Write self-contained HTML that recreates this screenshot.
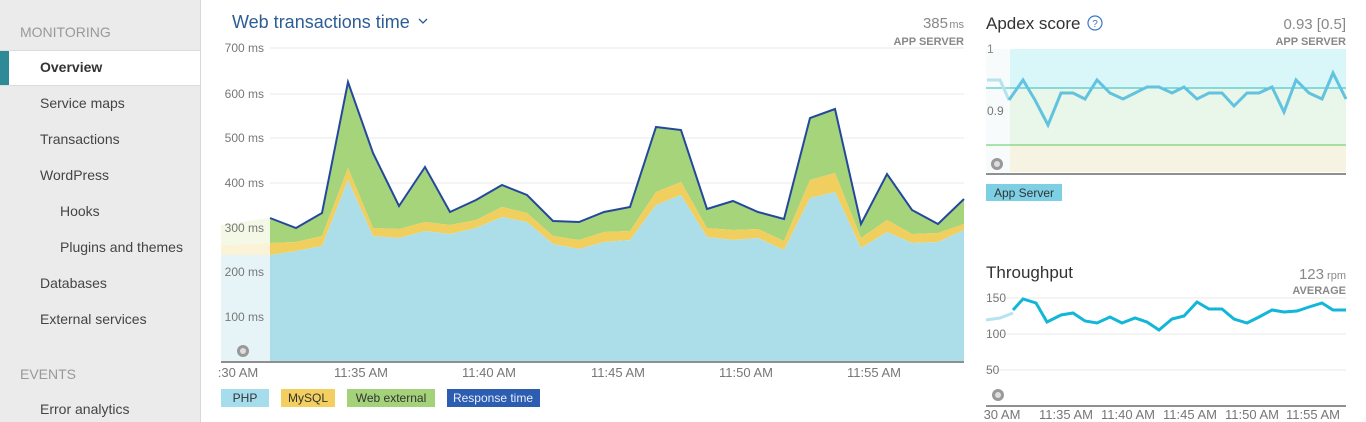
<!DOCTYPE html>
<html><head><meta charset="utf-8"><style>
body{margin:0;width:1366px;height:422px;overflow:hidden;background:#fff;font-family:"Liberation Sans","DejaVu Sans",sans-serif;position:relative}
.sb{position:absolute;left:0;top:0;width:200px;height:422px;background:#ebebeb;border-right:1px solid #d8d8d8}
.sb div{position:absolute;font-size:14px;color:#444}
.h{color:#999!important;left:20px}
.ov{left:0;top:50px;width:200px;height:34px;background:#fff;border-top:1px solid #ddd;border-bottom:1px solid #ddd}
.ov b{position:absolute;left:40px;top:8px;color:#333;font-size:14px}
.ov i{position:absolute;left:0;top:0;width:9px;height:34px;background:#2e8a96}
svg{position:absolute;left:0;top:0}
</style></head><body>
<div class="sb">
<div class="h" style="top:24px">MONITORING</div>
<div class="ov"><i></i><b>Overview</b></div>
<div style="left:40px;top:95px">Service maps</div>
<div style="left:40px;top:131px">Transactions</div>
<div style="left:40px;top:167px">WordPress</div>
<div style="left:60px;top:203px">Hooks</div>
<div style="left:60px;top:239px">Plugins and themes</div>
<div style="left:40px;top:275px">Databases</div>
<div style="left:40px;top:311px">External services</div>
<div class="h" style="top:366px">EVENTS</div>
<div style="left:40px;top:401px">Error analytics</div>
</div>
<svg width="1366" height="422" font-family="Liberation Sans, DejaVu Sans, sans-serif">
<text x="232" y="28" font-size="18" fill="#2d5d94">Web transactions time</text>
<path d="M419 19 l4 4 l4 -4" stroke="#2d5d94" fill="none" stroke-width="1.3"/>
<text x="948" y="28" font-size="15" fill="#888" text-anchor="end">385</text>
<text x="964" y="28" font-size="11" fill="#888" text-anchor="end">ms</text>
<text x="964" y="45" font-size="11" fill="#888" text-anchor="end" font-weight="bold">APP SERVER</text>
<g stroke="#e8e8e8" stroke-width="1">
<line x1="270" y1="48" x2="964" y2="48"/><line x1="270" y1="94" x2="964" y2="94"/><line x1="270" y1="138" x2="964" y2="138"/><line x1="270" y1="183" x2="964" y2="183"/><line x1="270" y1="228" x2="964" y2="228"/></g>
<polygon points="221,225 270,218 270,243 221,245" fill="#f4f8e6"/>
<polygon points="221,245 270,243 270,255 221,255" fill="#fbf3d8"/>
<polygon points="221,255 270,255 270,361 221,361" fill="#e6f4f8"/>
<g font-size="12" fill="#777" text-anchor="end">
<text x="264" y="52">700 ms</text><text x="264" y="98">600 ms</text><text x="264" y="142">500 ms</text><text x="264" y="187">400 ms</text><text x="264" y="232">300 ms</text><text x="264" y="276">200 ms</text><text x="264" y="321">100 ms</text></g>
<polygon fill="#a6d47a" points="270,218 296,228 322,213 348,82 373,153 399,206 425,167 450,212 476,200 502,185 527,195 553,221 579,222 604,212 630,207 656,127 681,130 707,209 733,201 758,212 784,219 810,118 835,109 861,224 887,174 912,210 938,224 964,199 964,224 938,233 912,234 887,220 861,238 835,173 810,180 784,241 758,229 733,230 707,228 681,182 656,192 630,231 604,232 579,240 553,236 527,213 502,207 476,220 450,225 425,222 399,229 373,228 348,168 322,236 296,242 270,243"/>
<polygon fill="#f1cf5e" points="270,243 296,242 322,236 348,168 373,228 399,229 425,222 450,225 476,220 502,207 527,213 553,236 579,240 604,232 630,231 656,192 681,182 707,228 733,230 758,229 784,241 810,180 835,173 861,238 887,220 912,234 938,233 964,224 964,230 938,242 912,243 887,232 861,248 835,192 810,198 784,250 758,238 733,240 707,237 681,195 656,205 630,240 604,242 579,249 553,244 527,222 502,217 476,228 450,234 425,231 399,238 373,236 348,180 322,246 296,251 270,255"/>
<polygon fill="#acdeea" points="270,255 296,251 322,246 348,180 373,236 399,238 425,231 450,234 476,228 502,217 527,222 553,244 579,249 604,242 630,240 656,205 681,195 707,237 733,240 758,238 784,250 810,198 835,192 861,248 887,232 912,243 938,242 964,230 964,361 270,361"/>
<polyline fill="none" stroke="#24489c" stroke-width="2" points="270,218 296,228 322,213 348,82 373,153 399,206 425,167 450,212 476,200 502,185 527,195 553,221 579,222 604,212 630,207 656,127 681,130 707,209 733,201 758,212 784,219 810,118 835,109 861,224 887,174 912,210 938,224 964,199"/>
<circle cx="243" cy="351" r="6" fill="#999"/><circle cx="243" cy="351" r="3" fill="#ddd"/>
<rect x="221" y="361" width="743" height="2" fill="#8f8f8f"/>
<g font-size="13" fill="#777" text-anchor="middle">
<text x="238" y="377">:30 AM</text><text x="361" y="377">11:35 AM</text><text x="489" y="377">11:40 AM</text><text x="618" y="377">11:45 AM</text><text x="746" y="377">11:50 AM</text><text x="874" y="377">11:55 AM</text></g>
<g font-size="12" text-anchor="middle">
<rect x="221" y="389" width="48" height="18" fill="#a6dded"/><text x="245" y="402" fill="#333">PHP</text>
<rect x="281" y="389" width="54" height="18" fill="#f3cf5f"/><text x="308" y="402" fill="#333">MySQL</text>
<rect x="347" y="389" width="88" height="18" fill="#a3d27a"/><text x="391" y="402" fill="#333">Web external</text>
<rect x="447" y="389" width="93" height="18" fill="#2c5db0"/><text x="493" y="402" fill="#e8eefa">Response time</text></g>

<text x="986" y="29" font-size="17" fill="#333">Apdex score</text>
<circle cx="1095" cy="23" r="7" fill="none" stroke="#3a78c4" stroke-width="1.2"/><text x="1095" y="27" font-size="10" fill="#3a78c4" text-anchor="middle">?</text>
<text x="1346" y="29" font-size="15" fill="#888" text-anchor="end">0.93 [0.5]</text>
<text x="1346" y="45" font-size="11" fill="#888" text-anchor="end" font-weight="bold">APP SERVER</text>
<rect x="1010" y="49" width="336" height="39" fill="#d9f6f8"/>
<rect x="1010" y="88" width="336" height="57" fill="#e9f6ea"/>
<rect x="1010" y="145" width="336" height="27" fill="#f7f3e2"/>
<rect x="986" y="49" width="24" height="123" fill="#f7fbfb"/>
<line x1="986" y1="88" x2="1346" y2="88" stroke="#2bbcc4" stroke-width="1"/>
<line x1="986" y1="145" x2="1346" y2="145" stroke="#5acb5a" stroke-width="1"/>
<text x="987" y="53" font-size="12" fill="#888">1</text><text x="987" y="115" font-size="12" fill="#777">0.9</text>
<polyline fill="none" stroke="#b5e3ef" stroke-width="3" points="987,80 1000,80 1009,100"/>
<polyline fill="none" stroke="#62c3e0" stroke-width="3" points="1009,100 1023,80 1035,100 1048,125 1061,93 1073,93 1085,99 1097,80 1110,93 1123,99 1135,93 1147,87 1159,87 1172,93 1184,87 1197,99 1209,93 1222,93 1234,106 1247,93 1259,93 1272,87 1284,112 1296,80 1309,93 1322,99 1333,73 1346,99"/>
<circle cx="997" cy="164" r="6" fill="#999"/><circle cx="997" cy="164" r="3" fill="#ddd"/>
<rect x="986" y="173" width="360" height="2" fill="#8f8f8f"/>
<rect x="986" y="184" width="76" height="17" fill="#7dd0e3"/><text x="1024" y="197" font-size="12" fill="#333" text-anchor="middle">App Server</text>

<text x="986" y="278" font-size="17" fill="#333">Throughput</text>
<text x="1324" y="279" font-size="15" fill="#888" text-anchor="end">123</text>
<text x="1346" y="279" font-size="11" fill="#888" text-anchor="end">rpm</text>
<text x="1346" y="294" font-size="11" fill="#888" text-anchor="end" font-weight="bold">AVERAGE</text>
<g stroke="#eaeaea"><line x1="986" y1="298" x2="1346" y2="298"/><line x1="986" y1="334" x2="1346" y2="334"/><line x1="986" y1="370" x2="1346" y2="370"/></g>
<g font-size="12" fill="#777"><text x="986" y="302">150</text><text x="986" y="338">100</text><text x="986" y="374">50</text></g>
<polyline fill="none" stroke="#b5e3ef" stroke-width="3" points="986,320 1000,318 1013,313"/>
<polyline fill="none" stroke="#12b6d8" stroke-width="3" points="1013,310 1023,299 1036,303 1047,322 1061,315 1073,313 1085,321 1097,323 1110,317 1122,323 1135,318 1147,322 1159,330 1172,319 1184,316 1197,302 1209,309 1222,309 1234,319 1247,323 1259,317 1272,310 1284,312 1297,311 1309,307 1322,303 1333,310 1346,310"/>
<circle cx="998" cy="395" r="6" fill="#999"/><circle cx="998" cy="395" r="3" fill="#ddd"/>
<rect x="986" y="405" width="360" height="2" fill="#8f8f8f"/>
<g font-size="13" fill="#777" text-anchor="middle">
<text x="1002" y="419">30 AM</text><text x="1066" y="419">11:35 AM</text><text x="1128" y="419">11:40 AM</text><text x="1190" y="419">11:45 AM</text><text x="1252" y="419">11:50 AM</text><text x="1313" y="419">11:55 AM</text></g>
</svg>
</body></html>
